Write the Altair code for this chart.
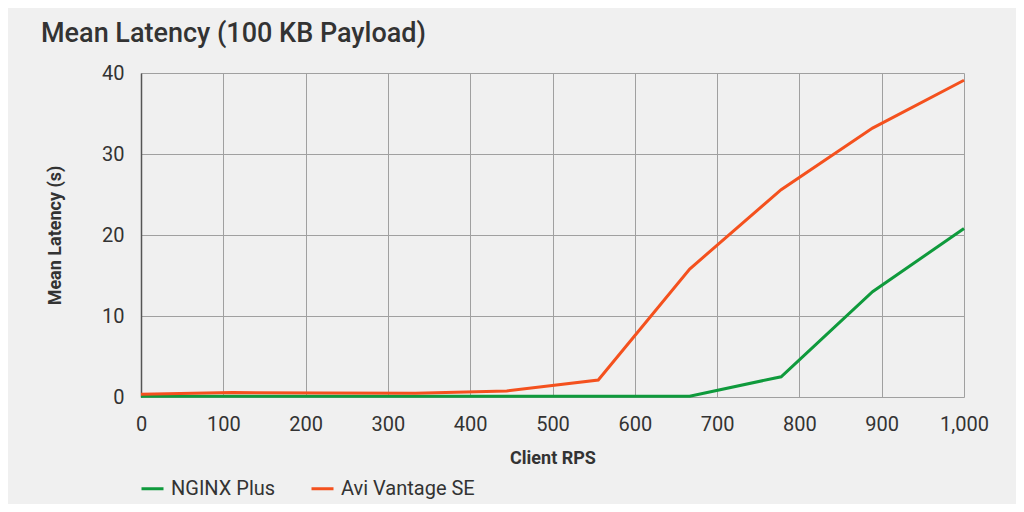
import altair as alt
import pandas as pd

rps = [0, 111.1, 222.2, 333.3, 444.4, 555.6, 666.7, 777.8, 888.9, 1000]
nginx = [0.1, 0.1, 0.1, 0.1, 0.1, 0.1, 0.1, 2.5, 13.0, 20.8]
avi = [0.35, 0.55, 0.5, 0.45, 0.75, 2.1, 15.8, 25.6, 33.2, 39.1]
series = ["NGINX Plus", "Avi Vantage SE"]
colors = ["#0f9a3c", "#f4511e"]
x_ticks = [0, 100, 200, 300, 400, 500, 600, 700, 800, 900, 1000]
y_ticks = [0, 10, 20, 30, 40]

rows = []
for name, vals in zip(series, [nginx, avi]):
    for x, v in zip(rps, vals):
        rows.append({"rps": x, "latency": v, "series": name})
df = pd.DataFrame(rows)

FONT = "Roboto"

chart = alt.Chart(df).mark_line(strokeWidth=3).encode(
    x=alt.X("rps:Q",
            scale=alt.Scale(domain=[0, 1000], nice=False),
            axis=alt.Axis(values=x_ticks, format=",d", title="Client RPS",
                          domain=False, ticks=False, labelPadding=17,
                          labelFontSize=20, labelColor="#333333", labelFont=FONT,
                          titleFont=FONT, titleFontSize=18, titleFontWeight="bold",
                          titleColor="#333333", titlePadding=15,
                          gridColor="#a0a0a0", gridWidth=1, labelFlush=False)),
    y=alt.Y("latency:Q",
            scale=alt.Scale(domain=[0, 40], nice=False),
            axis=alt.Axis(values=y_ticks, title="Mean Latency (s)",
                          domain=True, domainColor="#555555", domainWidth=1.5,
                          ticks=False, labelPadding=17,
                          labelFontSize=20, labelColor="#333333", labelFont=FONT,
                          titleFont=FONT, titleFontSize=18, titleFontWeight="bold",
                          titleColor="#333333", titlePadding=37,
                          gridColor="#a0a0a0", gridWidth=1)),
    color=alt.Color("series:N",
                    scale=alt.Scale(domain=series, range=colors),
                    sort=series,
                    legend=alt.Legend(title=None, orient="none", legendX=-1, legendY=403,
                                      direction="horizontal", symbolType="stroke",
                                      symbolSize=484, symbolStrokeWidth=3,
                                      labelFontSize=20, labelFont=FONT, labelColor="#333333",
                                      labelOffset=6, columnPadding=29, padding=0)),
).properties(
    width=823,
    height=324,
    title=alt.TitleParams("Mean Latency (100 KB Payload)", anchor="start", frame="group",
                          dx=-100, fontSize=27, font=FONT, fontWeight=500, color="#333333",
                          offset=15),
    background="#f0f0f0",
    autosize=alt.AutoSizeParams(type="none"),
    padding={"left": 133, "top": 65, "right": 52, "bottom": 107},
).configure_view(strokeWidth=0)

chart.save("out.html", embed_options={"renderer": "svg", "actions": False})
